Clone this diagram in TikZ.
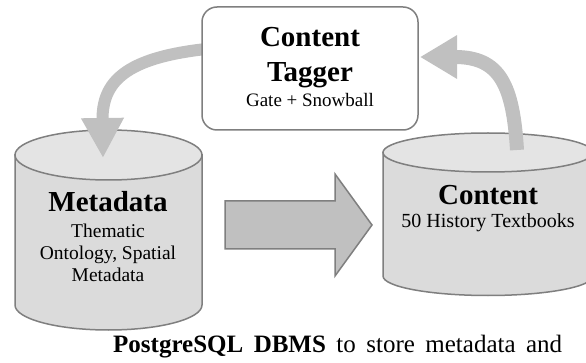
\documentclass[tikz,border=0pt]{standalone}
\usepackage{fontspec}
\setmainfont{Liberation Serif}
\usetikzlibrary{arrows.meta}
\definecolor{edgegray}{HTML}{7F7F7F}
\definecolor{bandgray}{HTML}{C0C0C0}
\definecolor{cyltop}{HTML}{E4E4E4}
\definecolor{cylbody}{HTML}{DBDBDB}
\tikzset{
  cylside/.style={draw=edgegray, line width=1.5pt, fill=cylbody},
  cyllid/.style={draw=edgegray, line width=1.5pt, fill=cyltop},
  bandarrow/.style={draw=bandgray, line cap=butt},
  tagbox/.style={draw=edgegray, line width=1.5pt, fill=white, rounded corners=15pt,
    minimum width=216pt, minimum height=123pt, inner sep=0pt},
  bigtitle/.style={anchor=base, inner sep=0pt, font=\fontsize{29}{32}\selectfont\bfseries},
  subtext/.style={anchor=base, inner sep=0pt, font=\fontsize{19.5}{22}\selectfont},
}
\begin{document}
\begin{tikzpicture}[x=1pt,y=-1pt]
\clip (0,0) rectangle (586,363);
\fill[white] (0,0) rectangle (586,363);

% Metadata cylinder
\draw[cylside] (15,155) -- (15,305) arc[start angle=180,end angle=360,x radius=93.5pt,y radius=25pt] -- (202,155) -- cycle;
\draw[cyllid] (108.5,155) ellipse[x radius=93.5pt,y radius=25pt];

% Content cylinder
\draw[cylside] (383,152.5) -- (383,276) arc[start angle=180,end angle=360,x radius=105pt,y radius=19.5pt] -- (593,152.5) -- cycle;
\draw[cyllid] (488,152.5) ellipse[x radius=105pt,y radius=19.5pt];

% big block arrow
\draw[draw=edgegray, line width=1.5pt, fill=bandgray, line join=miter]
  (225,201) -- (335,201) -- (335,174) -- (372,225) -- (335,276) -- (335,249) -- (225,249) -- cycle;

% curved arrows
\coordinate (lstart) at (206,49);
\coordinate (ltip) at (103,158);
\coordinate (rstart) at (517,150);
\coordinate (rtip) at (420,57);
\draw[bandarrow, line width=12pt, -{Triangle[width=40pt,length=40pt]}]
  (lstart) .. controls (125,58) and (102,82) .. (ltip);
\draw[bandarrow, line width=14pt, -{Triangle[width=41pt,length=37pt]}]
  (rstart) .. controls (513,85) and (500,57) .. (rtip);

% tagger box
\node[tagbox] (tagger) at (310,68.5) {};
\node[bigtitle] (tagt1) at (310,47) {Content};
\node[bigtitle] (tagt2) at (310,82) {Tagger};
\node[anchor=base, inner sep=0pt, font=\fontsize{19}{22}\selectfont] (tagt3) at (310,107) {Gate + Snowball};

% metadata texts
\node[bigtitle] (mtitle) at (108,212) {Metadata};
\node[subtext] (m1) at (108,238) {Thematic};
\node[subtext] (m2) at (108,260) {Ontology, Spatial};
\node[subtext] (m3) at (108,282) {Metadata};

% content texts
\node[bigtitle] (ctitle) at (488,205) {Content};
\node[anchor=base, inner sep=0pt, font=\fontsize{20}{22}\selectfont] (c1) at (488,228) {50 History Textbooks};

% caption
\node[anchor=base west, inner sep=0pt, font=\fontsize{25}{27}\selectfont] (caption) at (113,352)
  {\hbox to 449pt{\textbf{PostgreSQL DBMS} to store metadata and}};
\end{tikzpicture}
\end{document}
